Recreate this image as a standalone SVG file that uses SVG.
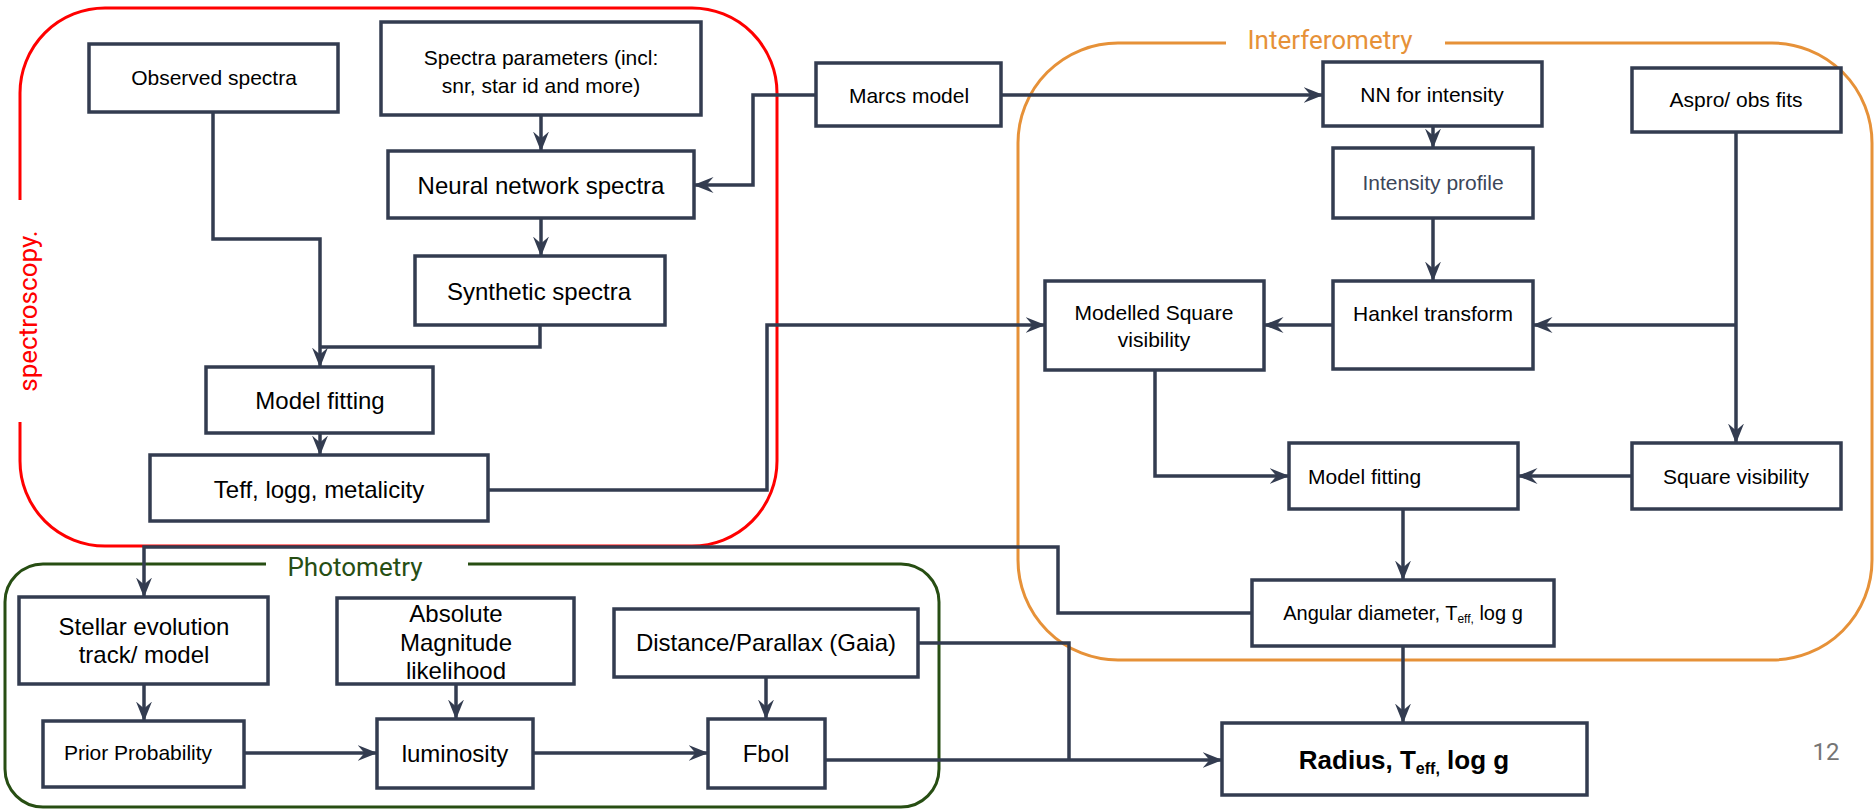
<svg xmlns="http://www.w3.org/2000/svg" width="1875" height="810" viewBox="0 0 1875 810">
<style>
.box{fill:#fff;stroke:#333c50;stroke-width:3.5}
.t{font-family:"Liberation Sans",Arial,sans-serif;fill:#000;text-anchor:middle;dominant-baseline:central}
.s{font-size:21px}
.b{font-size:24px}
.c{fill:none;stroke:#333c50;stroke-width:3.5}
.lab{font-family:Roboto,"Open Sans",sans-serif;font-size:26px;text-anchor:middle;dominant-baseline:central}
</style>
<defs>
<marker id="ah" viewBox="0 0 20 16" refX="19.5" refY="8" markerWidth="20" markerHeight="16" markerUnits="userSpaceOnUse" orient="auto">
<path d="M0,0 L20,8 L0,16 L7,8 Z" fill="#333c50"/>
</marker>
</defs>
<rect width="1875" height="810" fill="#fff"/>
<g id="groups">
<path d="M20,422 V461 A85,85 0 0 0 105,546 H692 A85,85 0 0 0 777,461 V93 A85,85 0 0 0 692,8 H105 A85,85 0 0 0 20,93 V200" fill="none" stroke="#ff0000" stroke-width="3"/>
<text class="lab" fill="#ff0000" transform="translate(28,311) rotate(-90)">spectroscopy.</text>
<path d="M1445,43 H1772 A100,100 0 0 1 1872,143 V560 A100,100 0 0 1 1772,660 H1118 A100,100 0 0 1 1018,560 V143 A100,100 0 0 1 1118,43 H1226" fill="none" stroke="#e69138" stroke-width="3"/>
<text class="lab" fill="#e69138" x="1330" y="40">Interferometry</text>
<path d="M468,564 H901 A38,38 0 0 1 939,602 V769 A38,38 0 0 1 901,807 H43 A38,38 0 0 1 5,769 V602 A38,38 0 0 1 43,564 H266" fill="none" stroke="#274e13" stroke-width="3"/>
<text class="lab" fill="#274e13" x="355" y="567">Photometry</text>
</g>
<g id="connectors">
<path class="c" d="M541,115 V151" marker-end="url(#ah)"/>
<path class="c" d="M541,218 V256" marker-end="url(#ah)"/>
<path class="c" d="M213,112 V239 H320 V367" marker-end="url(#ah)"/>
<path class="c" d="M540,325 V347 H320"/>
<path class="c" d="M320,433 V455" marker-end="url(#ah)"/>
<path class="c" d="M488,490 H767 V325 H1045" marker-end="url(#ah)"/>
<path class="c" d="M817,95 H753 V185 H694" marker-end="url(#ah)"/>
<path class="c" d="M1001,95 H1323" marker-end="url(#ah)"/>
<path class="c" d="M1433,126 V148" marker-end="url(#ah)"/>
<path class="c" d="M1433,218 V281" marker-end="url(#ah)"/>
<path class="c" d="M1736,132 V443" marker-end="url(#ah)"/>
<path class="c" d="M1736,325 H1533" marker-end="url(#ah)"/>
<path class="c" d="M1334,325 H1264" marker-end="url(#ah)"/>
<path class="c" d="M1155,370 V476 H1289" marker-end="url(#ah)"/>
<path class="c" d="M1632,476 H1518" marker-end="url(#ah)"/>
<path class="c" d="M1403,509 V580" marker-end="url(#ah)"/>
<path class="c" d="M1403,646 V723" marker-end="url(#ah)"/>
<path class="c" d="M1252,613 H1058 V547 H144 V597" marker-end="url(#ah)"/>
<path class="c" d="M144,684 V721" marker-end="url(#ah)"/>
<path class="c" d="M456,684 V719" marker-end="url(#ah)"/>
<path class="c" d="M766,677 V719" marker-end="url(#ah)"/>
<path class="c" d="M244,753 H377" marker-end="url(#ah)"/>
<path class="c" d="M533,753 H708" marker-end="url(#ah)"/>
<path class="c" d="M825,760 H1222" marker-end="url(#ah)"/>
<path class="c" d="M918,643 H1069 V760"/>
</g>
<g id="n-observed"><rect class="box" x="89" y="44" width="249" height="68"/><text class="t s" x="214" y="77">Observed spectra</text></g>
<g id="n-params"><rect class="box" x="381" y="22" width="320" height="93"/><text class="t s" x="541" y="57">Spectra parameters (incl:</text><text class="t s" x="541" y="85">snr, star id and more)</text></g>
<g id="n-nnspec"><rect class="box" x="388" y="151" width="306" height="67"/><text class="t b" x="541" y="185">Neural network spectra</text></g>
<g id="n-synth"><rect class="box" x="415" y="256" width="250" height="69"/><text class="t b" x="539" y="291">Synthetic spectra</text></g>
<g id="n-mfit1"><rect class="box" x="206" y="367" width="227" height="66"/><text class="t b" x="320" y="400">Model fitting</text></g>
<g id="n-teff"><rect class="box" x="150" y="455" width="338" height="66"/><text class="t b" x="319" y="489">Teff, logg, metalicity</text></g>
<g id="n-marcs"><rect class="box" x="816" y="63" width="185" height="63"/><text class="t s" x="909" y="95">Marcs model</text></g>
<g id="n-nnint"><rect class="box" x="1323" y="62" width="219" height="64"/><text class="t s" x="1432" y="94">NN for intensity</text></g>
<g id="n-aspro"><rect class="box" x="1632" y="68" width="209" height="64"/><text class="t s" x="1736" y="99">Aspro/ obs fits</text></g>
<g id="n-intprof"><rect class="box" x="1333" y="148" width="200" height="70"/><text class="t s" x="1433" y="182" style="fill:#3c4659">Intensity profile</text></g>
<g id="n-hankel"><rect class="box" x="1333" y="281" width="200" height="88"/><text class="t s" x="1433" y="313">Hankel transform</text></g>
<g id="n-modsq"><rect class="box" x="1045" y="281" width="219" height="89"/><text class="t s" x="1154" y="312">Modelled Square</text><text class="t s" x="1154" y="339">visibility</text></g>
<g id="n-mfit2"><rect class="box" x="1289" y="443" width="229" height="66"/><text class="t s" x="1308" y="476" style="text-anchor:start">Model fitting</text></g>
<g id="n-sqvis"><rect class="box" x="1632" y="443" width="209" height="66"/><text class="t s" x="1736" y="476">Square visibility</text></g>
<g id="n-angular"><rect class="box" x="1252" y="580" width="302" height="66"/><text class="t" x="1403" y="613" font-size="20">Angular diameter, T<tspan font-size="12" dy="6">eff,</tspan><tspan dy="-6"> log g</tspan></text></g>
<g id="n-radius"><rect class="box" x="1222" y="723" width="365" height="72"/><text class="t" x="1404" y="760" font-size="26" font-weight="bold">Radius, T<tspan font-size="16" dy="8">eff,</tspan><tspan dy="-8"> log g</tspan></text></g>
<g id="n-stellar"><rect class="box" x="19" y="597" width="249" height="87"/><text class="t b" x="144" y="626">Stellar evolution</text><text class="t b" x="144" y="654">track/ model</text></g>
<g id="n-absolute"><rect class="box" x="337" y="598" width="237" height="86"/><text class="t b" x="456" y="613">Absolute</text><text class="t b" x="456" y="642">Magnitude</text><text class="t b" x="456" y="670">likelihood</text></g>
<g id="n-distance"><rect class="box" x="614" y="609" width="304" height="68"/><text class="t b" x="766" y="642">Distance/Parallax (Gaia)</text></g>
<g id="n-prior"><rect class="box" x="43" y="721" width="201" height="66"/><text class="t s" x="138" y="752">Prior Probability</text></g>
<g id="n-lum"><rect class="box" x="377" y="719" width="156" height="69"/><text class="t b" x="455" y="753">luminosity</text></g>
<g id="n-fbol"><rect class="box" x="708" y="719" width="117" height="69"/><text class="t b" x="766" y="753">Fbol</text></g>
<text x="1826" y="752" font-family="Roboto,'Open Sans',sans-serif" font-size="24" fill="#757575" text-anchor="middle" dominant-baseline="central">12</text>
</svg>
